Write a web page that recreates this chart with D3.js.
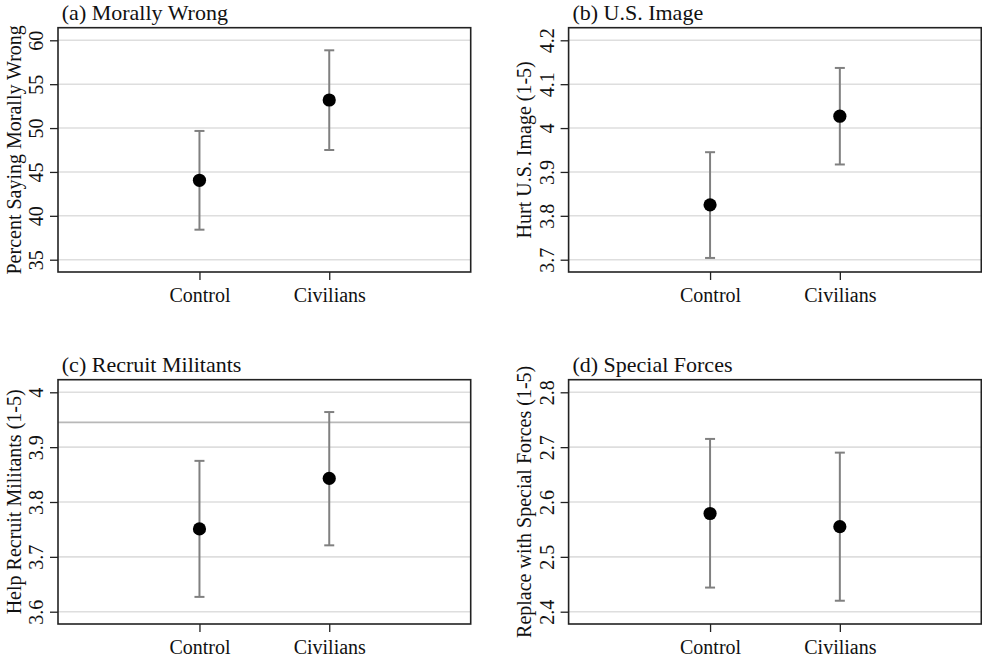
<!DOCTYPE html>
<html>
<head>
<meta charset="utf-8">
<script src="https://cdn.jsdelivr.net/npm/d3@7"></script>
<style>
  html, body { margin: 0; padding: 0; background: #fff; }
  svg { display: block; }
  svg text { font-family: "Liberation Serif", "Times New Roman", serif !important; }
</style>
</head>
<body>
<svg id="chart" width="982" height="658"></svg>
<script>
// Treatment groups shown on every panel
const categories = ["Control", "Civilians"];

// Panel titles and y-axis titles
const panelTitles = ["(a) Morally Wrong", "(b) U.S. Image", "(c) Recruit Militants", "(d) Special Forces"];
const axisTitles = ["Percent Saying Morally Wrong", "Hurt U.S. Image (1-5)", "Help Recruit Militants (1-5)", "Replace with Special Forces (1-5)"];

// Point estimates [Control, Civilians] per panel
const pointEstimates = [
  [44.05, 53.2],
  [3.825, 4.027],
  [3.751, 3.843],
  [2.579, 2.555]
];
// Lower and upper bounds of the 95% intervals
const ciLower = [
  [38.42, 47.5],
  [3.704, 3.917],
  [3.627, 3.721],
  [2.444, 2.42]
];
const ciUpper = [
  [49.67, 58.86],
  [3.945, 4.137],
  [3.875, 3.964],
  [2.715, 2.69]
];

// Y tick values per panel
const yTicks = [
  [35, 40, 45, 50, 55, 60],
  [3.7, 3.8, 3.9, 4.0, 4.1, 4.2],
  [3.6, 3.7, 3.8, 3.9, 4.0],
  [2.4, 2.5, 2.6, 2.7, 2.8]
];

// Extra reference lines (panel index, value)
const refLines = [[2, 3.945]];

const svg = d3.select("#chart");

const frameW = 412.7, frameH = 244.3;
const origins = [[58, 27.7], [568.6, 27.7], [58, 379.7], [568.6, 379.7]];
const fmt = v => String(+v.toFixed(2));
const serif = "Liberation Serif";

panelTitles.forEach((title, i) => {
  const [ox, oy] = origins[i];
  const g = svg.append("g").attr("transform", `translate(${ox},${oy})`);

  const ticks = yTicks[i];
  const t0 = d3.min(ticks), t1 = d3.max(ticks);
  const span = t1 - t0;
  const y = d3.scaleLinear()
    .domain([t0 - span * 12.3 / 219.4, t1 + span * 12.6 / 219.4])
    .range([frameH, 0]);
  const x = d3.scalePoint().domain(categories).range([0, frameW]).padding(1.09);

  // gridlines
  g.append("g").selectAll("line").data(ticks).join("line")
    .attr("x1", 0).attr("x2", frameW)
    .attr("y1", d => y(d)).attr("y2", d => y(d))
    .attr("stroke", "#dedede").attr("stroke-width", 1.6);

  refLines.filter(r => r[0] === i).forEach(r => {
    g.append("line")
      .attr("x1", 0).attr("x2", frameW)
      .attr("y1", y(r[1])).attr("y2", y(r[1]))
      .attr("stroke", "#b8b8b8").attr("stroke-width", 1.8);
  });

  // y axis
  const yAxis = g.append("g").call(d3.axisLeft(y).tickValues(ticks).tickSize(8).tickPadding(6).tickFormat(fmt));
  yAxis.attr("font-family", serif);
  yAxis.select(".domain").remove();
  yAxis.selectAll(".tick line").attr("stroke", "#222").attr("stroke-width", 1.3);
  yAxis.selectAll(".tick text")
    .style("font-family", serif)
    .attr("font-size", 20).attr("fill", "#111")
    .attr("transform", "rotate(-90)")
    .attr("x", 0).attr("y", -15)
    .attr("dy", 0)
    .attr("text-anchor", "middle");

  // x axis
  const xAxis = g.append("g").attr("transform", `translate(0,${frameH})`)
    .call(d3.axisBottom(x).tickSize(8).tickPadding(8));
  xAxis.attr("font-family", serif);
  xAxis.select(".domain").remove();
  xAxis.selectAll(".tick line").attr("stroke", "#222").attr("stroke-width", 1.3);
  xAxis.selectAll(".tick text")
    .style("font-family", serif)
    .attr("font-size", 20).attr("fill", "#111")
    .attr("y", 29.7).attr("dy", 0);

  // error bars
  const rows = categories.map((c, j) => ({
    cat: c, est: pointEstimates[i][j], lo: ciLower[i][j], hi: ciUpper[i][j]
  }));
  const bars = g.append("g");
  bars.selectAll("line.ci").data(rows).join("line").attr("class", "ci")
    .attr("x1", d => x(d.cat)).attr("x2", d => x(d.cat))
    .attr("y1", d => y(d.lo)).attr("y2", d => y(d.hi))
    .attr("stroke", "#808080").attr("stroke-width", 2);
  ["lo", "hi"].forEach(k => {
    bars.selectAll("line.cap-" + k).data(rows).join("line").attr("class", "cap-" + k)
      .attr("x1", d => x(d.cat) - 5).attr("x2", d => x(d.cat) + 5)
      .attr("y1", d => y(d[k])).attr("y2", d => y(d[k]))
      .attr("stroke", "#808080").attr("stroke-width", 2);
  });
  bars.selectAll("circle").data(rows).join("circle")
    .attr("cx", d => x(d.cat)).attr("cy", d => y(d.est))
    .attr("r", 6.6).attr("fill", "#000");

  // frame
  g.append("rect").attr("x", 0).attr("y", 0).attr("width", frameW).attr("height", frameH)
    .attr("fill", "none").attr("stroke", "#222").attr("stroke-width", 1.6);

  // panel title
  g.append("text").attr("x", 3.8).attr("y", -7.5)
    .style("font-family", serif)
    .attr("font-size", 22).attr("fill", "#111")
    .text(title);

  // y-axis title
  g.append("text")
    .attr("transform", `translate(-37.5,${frameH / 2}) rotate(-90)`)
    .attr("text-anchor", "middle")
    .style("font-family", serif)
    .attr("font-size", 20).attr("fill", "#111")
    .text(axisTitles[i]);
});
</script>
</body>
</html>
